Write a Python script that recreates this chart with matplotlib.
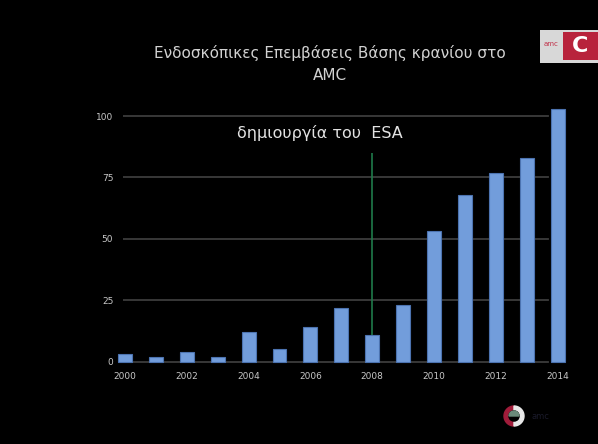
import matplotlib
matplotlib.use("Agg")
import matplotlib.pyplot as plt
from matplotlib.patches import Rectangle, Wedge

years = list(range(2000, 2015))
surgeries = [3, 2, 4, 2, 12, 5, 14, 22, 11, 23, 53, 68, 77, 83, 103]
yticks = [0, 25, 50, 75, 100]
xticks = [2000, 2002, 2004, 2006, 2008, 2010, 2012, 2014]
esa_year = 2008

title = "Ενδοσκόπικες Επεμβάσεις Βάσης κρανίου στο\nAMC"
esa_label = "δημιουργία του  ESA"

W, H = 598, 444
fig = plt.figure(figsize=(W / 100, H / 100), dpi=100, facecolor="black")

# axes placed in pixel terms of the original slide
left, right, bottom, top = 123, 572, 366.6, 101.3
ax = fig.add_axes([left / W, 1 - bottom / H, (right - left) / W, (bottom - top) / H])
ax.set_facecolor("black")

ax.bar(years, surgeries, width=0.45, color="#729ddb", edgecolor="#4c73b0",
       linewidth=0.8, zorder=3, clip_on=False)

ax.set_yticks(yticks)
ax.set_xticks(xticks)
ax.set_xlim(1999.94, 2014.46)
ax.set_ylim(-2, 106)
# the gridlines stop short of the last bar on the slide
for t in yticks:
    ax.axhline(t, xmin=0, xmax=0.9465, color="#3c3c3c", linewidth=1.3, zorder=0)
ax.tick_params(colors="#c8c8c8", labelsize=6.5, length=0)
ax.tick_params(axis="y", pad=7)
ax.tick_params(axis="x", pad=4)
for s in ax.spines.values():
    s.set_visible(False)

# ESA marker
esa_val = surgeries[years.index(esa_year)]
ax.vlines(esa_year, esa_val, 85, color="#1f7a4a", linewidth=1.2, zorder=4)
ax.text(2006.3, 93, esa_label, color="#e2e2e2", fontsize=11.5,
        ha="center", va="center")

fig.text(330 / W, 1 - 64 / H, title, color="#d2d2d2", fontsize=11,
         ha="center", va="center", linespacing=1.65)

# top-right logo
fig.add_artist(Rectangle((540 / W, 1 - 63 / H), 58 / W, 33 / H,
                         transform=fig.transFigure, facecolor="#d8d8d8",
                         edgecolor="none"))
fig.add_artist(Rectangle((563 / W, 1 - 60 / H), 35 / W, 28 / H,
                         transform=fig.transFigure, facecolor="#b8233c",
                         edgecolor="none"))
fig.text(551 / W, 1 - 44 / H, "amc", color="#c03048", fontsize=5,
         ha="center", va="center")
fig.text(580 / W, 1 - 46 / H, "C", color="white", fontsize=16,
         fontweight="bold", ha="center", va="center")

# bottom-right logo
lax = fig.add_axes([500 / W, 1 - 428 / H, 28 / W, 24 / H])
lax.set_xlim(-1.2, 1.2)
lax.set_ylim(-1.2, 1.2)
lax.set_aspect("equal")
lax.axis("off")
lax.add_patch(Wedge((0, 0), 1, 90, 270, width=0.35, color="#a01c3a"))
lax.add_patch(Wedge((0, 0), 1, -90, 90, width=0.35, color="#e8e8e8"))
lax.add_patch(Wedge((0, 0), 0.5, 0, 180, color="#6a8a7a"))
fig.text(532 / W, 1 - 416 / H, "amc", color="#1a1a2a", fontsize=6,
         ha="left", va="center")

fig.savefig("out.png", dpi=100, facecolor="black")
